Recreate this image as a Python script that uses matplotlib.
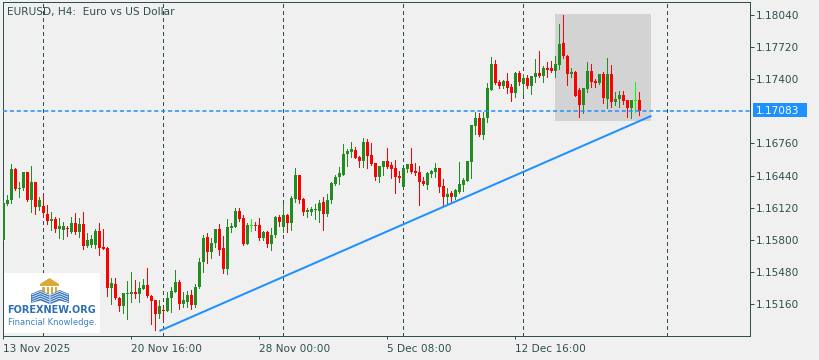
import matplotlib
matplotlib.use("Agg")
import matplotlib.pyplot as plt
from matplotlib.patches import Rectangle, Polygon

# EURUSD H4 candles, oldest first
opens = [
    1.15797, 1.16156, 1.16196, 1.16505, 1.16311, 1.16316, 1.16475, 1.16196, 1.16375, 1.16126,
    1.16136, 1.16056, 1.15987, 1.16007, 1.15907, 1.15897, 1.15917, 1.15877, 1.15967, 1.15877,
    1.15957, 1.15738, 1.15748, 1.15748, 1.15887, 1.15728, 1.15723, 1.15319, 1.15359, 1.15219,
    1.15140, 1.15264, 1.15264, 1.15279, 1.15259, 1.15309, 1.15349, 1.15239, 1.15200, 1.15060,
    1.15105, 1.15090, 1.15219, 1.15279, 1.15379, 1.15160, 1.15180, 1.15249, 1.15150, 1.15329,
    1.15578, 1.15827, 1.15678, 1.15768, 1.15907, 1.15718, 1.15508, 1.15917, 1.15927, 1.16086,
    1.16017, 1.15758, 1.15947, 1.15952, 1.15947, 1.15817, 1.15877, 1.15758, 1.15847, 1.16027,
    1.15927, 1.16047, 1.15967, 1.16206, 1.16445, 1.16206, 1.16076, 1.16076, 1.16100, 1.16086,
    1.16176, 1.16056, 1.16196, 1.16355, 1.16425, 1.16445, 1.16654, 1.16674, 1.16694, 1.16625,
    1.16585, 1.16774, 1.16644, 1.16565, 1.16425, 1.16525, 1.16585, 1.16545, 1.16515, 1.16435,
    1.16326, 1.16505, 1.16555, 1.16485, 1.16475, 1.16385, 1.16345, 1.16455, 1.16475, 1.16515,
    1.16336, 1.16226, 1.16266, 1.16226, 1.16276, 1.16345, 1.16385, 1.16575, 1.16933, 1.17013,
    1.16844, 1.17013, 1.17292, 1.17551, 1.17372, 1.17332, 1.17382, 1.17322, 1.17262, 1.17462,
    1.17352, 1.17412, 1.17332, 1.17422, 1.17462, 1.17432, 1.17511, 1.17511, 1.17481, 1.17541,
    1.17761, 1.17631, 1.17452, 1.17472, 1.17292, 1.17143, 1.17302, 1.17481, 1.17382, 1.17362,
    1.17452, 1.17202, 1.17452, 1.17173, 1.17202, 1.17242, 1.17193, 1.17113, 1.17190, 1.17193,
]
highs = [
    1.16196, 1.16246, 1.16555, 1.16515, 1.16375, 1.16480, 1.16480, 1.16535, 1.16380, 1.16226,
    1.16246, 1.16146, 1.16076, 1.16027, 1.16017, 1.15977, 1.15937, 1.16027, 1.16066, 1.16017,
    1.16076, 1.15867, 1.15847, 1.15907, 1.15967, 1.15907, 1.15728, 1.15419, 1.15419, 1.15229,
    1.15274, 1.15389, 1.15479, 1.15399, 1.15379, 1.15409, 1.15518, 1.15249, 1.15200, 1.15200,
    1.15140, 1.15279, 1.15329, 1.15498, 1.15399, 1.15279, 1.15289, 1.15299, 1.15359, 1.15618,
    1.15847, 1.15867, 1.15817, 1.15907, 1.15957, 1.15837, 1.16007, 1.15967, 1.16116, 1.16116,
    1.16047, 1.15967, 1.16007, 1.15977, 1.16017, 1.15887, 1.15887, 1.15917, 1.16037, 1.16047,
    1.16156, 1.16056, 1.16236, 1.16515, 1.16445, 1.16216, 1.16116, 1.16126, 1.16156, 1.16196,
    1.16226, 1.16256, 1.16375, 1.16445, 1.16525, 1.16754, 1.16704, 1.16774, 1.16724, 1.16635,
    1.16814, 1.16804, 1.16764, 1.16565, 1.16535, 1.16585, 1.16714, 1.16575, 1.16595, 1.16485,
    1.16515, 1.16555, 1.16714, 1.16565, 1.16535, 1.16425, 1.16475, 1.16495, 1.16565, 1.16515,
    1.16405, 1.16316, 1.16286, 1.16306, 1.16575, 1.16415, 1.16585, 1.16943, 1.17073, 1.17063,
    1.17073, 1.17362, 1.17621, 1.17591, 1.17392, 1.17392, 1.17462, 1.17352, 1.17472, 1.17481,
    1.17452, 1.17442, 1.17432, 1.17601, 1.17681, 1.17531, 1.17571, 1.17581, 1.17631, 1.17950,
    1.18040, 1.17641, 1.17511, 1.17481, 1.17312, 1.17312, 1.17571, 1.17551, 1.17402, 1.17452,
    1.17472, 1.17611, 1.17541, 1.17272, 1.17282, 1.17282, 1.17193, 1.17193, 1.17372, 1.17272,
]
lows = [
    1.15797, 1.16146, 1.16166, 1.16296, 1.16226, 1.16296, 1.16186, 1.16076, 1.16056, 1.16096,
    1.16047, 1.15957, 1.15897, 1.15877, 1.15817, 1.15807, 1.15837, 1.15867, 1.15857, 1.15827,
    1.15708, 1.15728, 1.15728, 1.15718, 1.15648, 1.15708, 1.15239, 1.15160, 1.15209, 1.15090,
    1.15070, 1.15010, 1.15180, 1.15219, 1.15180, 1.15309, 1.15229, 1.14960, 1.14901, 1.15020,
    1.15000, 1.15090, 1.15080, 1.15279, 1.15110, 1.15130, 1.15130, 1.15110, 1.15130, 1.15319,
    1.15479, 1.15568, 1.15618, 1.15728, 1.15648, 1.15469, 1.15459, 1.15877, 1.15927, 1.15987,
    1.15748, 1.15758, 1.15887, 1.15897, 1.15797, 1.15797, 1.15728, 1.15698, 1.15827, 1.15937,
    1.15877, 1.15877, 1.15897, 1.16176, 1.16166, 1.16047, 1.16027, 1.16047, 1.16007, 1.15977,
    1.15897, 1.16037, 1.16166, 1.16345, 1.16355, 1.16445, 1.16535, 1.16625, 1.16615, 1.16525,
    1.16525, 1.16515, 1.16545, 1.16395, 1.16375, 1.16445, 1.16515, 1.16415, 1.16266, 1.16375,
    1.16326, 1.16475, 1.16465, 1.16445, 1.16146, 1.16345, 1.16306, 1.16425, 1.16425, 1.16276,
    1.16136, 1.16156, 1.16186, 1.16206, 1.16266, 1.16286, 1.16385, 1.16415, 1.16854, 1.16834,
    1.16804, 1.16973, 1.17292, 1.17352, 1.17312, 1.17312, 1.17262, 1.17183, 1.17222, 1.17342,
    1.17252, 1.17312, 1.17252, 1.17372, 1.17422, 1.17372, 1.17422, 1.17472, 1.17422, 1.17501,
    1.17611, 1.17342, 1.17422, 1.17232, 1.17023, 1.17063, 1.17272, 1.17322, 1.17322, 1.17352,
    1.17163, 1.17113, 1.17123, 1.17143, 1.17123, 1.17153, 1.17023, 1.17013, 1.17073, 1.17043,
]
closes = [
    1.16166, 1.16196, 1.16505, 1.16306, 1.16321, 1.16475, 1.16196, 1.16375, 1.16126, 1.16196,
    1.16066, 1.15987, 1.16007, 1.15907, 1.15937, 1.15937, 1.15907, 1.15967, 1.15877, 1.15957,
    1.15738, 1.15797, 1.15807, 1.15887, 1.15718, 1.15713, 1.15319, 1.15369, 1.15219, 1.15140,
    1.15269, 1.15274, 1.15279, 1.15259, 1.15319, 1.15349, 1.15239, 1.15190, 1.15060, 1.15140,
    1.15095, 1.15219, 1.15289, 1.15379, 1.15160, 1.15200, 1.15249, 1.15150, 1.15329, 1.15578,
    1.15817, 1.15678, 1.15768, 1.15907, 1.15698, 1.15508, 1.15927, 1.15937, 1.16086, 1.16007,
    1.15758, 1.15947, 1.15947, 1.15942, 1.15817, 1.15877, 1.15758, 1.15847, 1.16027, 1.15977,
    1.16047, 1.15967, 1.16216, 1.16445, 1.16196, 1.16076, 1.16096, 1.16106, 1.16106, 1.16166,
    1.16056, 1.16196, 1.16365, 1.16425, 1.16465, 1.16654, 1.16684, 1.16704, 1.16615, 1.16585,
    1.16774, 1.16635, 1.16555, 1.16425, 1.16535, 1.16585, 1.16525, 1.16505, 1.16425, 1.16415,
    1.16515, 1.16555, 1.16475, 1.16465, 1.16375, 1.16355, 1.16465, 1.16485, 1.16515, 1.16326,
    1.16226, 1.16256, 1.16226, 1.16296, 1.16355, 1.16395, 1.16585, 1.16943, 1.17013, 1.16844,
    1.17013, 1.17312, 1.17551, 1.17362, 1.17332, 1.17382, 1.17312, 1.17262, 1.17462, 1.17372,
    1.17412, 1.17332, 1.17432, 1.17462, 1.17432, 1.17511, 1.17491, 1.17481, 1.17551, 1.17751,
    1.17631, 1.17452, 1.17472, 1.17232, 1.17143, 1.17312, 1.17481, 1.17372, 1.17362, 1.17452,
    1.17212, 1.17452, 1.17173, 1.17202, 1.17242, 1.17183, 1.17113, 1.17193, 1.17190, 1.17083,
]

price_ticks = [1.15160, 1.15480, 1.15800, 1.16120, 1.16440, 1.16760, 1.17083, 1.17400, 1.17720, 1.18040]
time_ticks = [0, 32, 64, 96, 128]
time_labels = ["13 Nov 2025", "20 Nov 16:00", "28 Nov 00:00", "5 Dec 08:00", "12 Dec 16:00"]
week_starts = [10, 40, 70, 100, 130, 166]
last_price = 1.17083
trend_x = [39, 162]
trend_y = [1.14891, 1.17036]
zone_x = [138, 162]
zone_y = [1.16984, 1.18050]

BG = "#F0F0F0"
FG = "#2F4F4F"
BLUE = "#1E90FF"
BULL = "#228B22"
BEAR = "#FF0000"
DOJI = "#00FF00"
PX = 0.72  # one pixel in points

W, H = 820, 360
def fx(px):
    return px / W
def fy(py):
    return 1 - py / H

fig = plt.figure(figsize=(8.2, 3.6), dpi=100, facecolor=BG)
ax = fig.add_axes([fx(3), fy(336), (750 - 3) / W, (336 - 1.5) / H], facecolor=BG)
ax.set_xlim(-0.125, 186.625)
ax.set_ylim(1.14841, 1.18175)

# weekly separators
for w in week_starts:
    ax.axvline(w, color=FG, lw=PX, ls=(0, (3, 3)), zorder=1, antialiased=False)

# highlighted zone
ax.add_patch(Rectangle((zone_x[0], zone_y[0]), zone_x[1] - zone_x[0], zone_y[1] - zone_y[0],
                       facecolor="#D3D3D3", edgecolor="none", zorder=1.5))

# candles
onepx = (1.18175 - 1.14841) / (336 - 1.5)
for i in range(len(opens)):
    o, h, l, c = opens[i], highs[i], lows[i], closes[i]
    if c > o:
        col = BULL
    elif c < o:
        col = BEAR
    else:
        col = DOJI
    ax.vlines(i, l, h, color=col, lw=PX, zorder=3, antialiased=False)
    lo, hi = min(o, c), max(o, c)
    if hi - lo < onepx:
        mid = (hi + lo) / 2
        lo, hi = mid - onepx / 2, mid + onepx / 2
    ax.bar(i, hi - lo, bottom=lo, width=0.75, color=col, linewidth=0, zorder=3,
           antialiased=False)

ax.axhline(last_price, color=BLUE, lw=1.1, ls=(0, (2.7, 1.8)), zorder=4)
ax.plot(trend_x, trend_y, color=BLUE, lw=2 * PX, zorder=4, solid_capstyle="butt")

for s in ax.spines.values():
    s.set_color(FG)
    s.set_linewidth(PX)

ax.yaxis.tick_right()
ax.set_yticks([p for p in price_ticks if p != last_price])
ax.set_yticklabels(["%.5f" % p for p in price_ticks if p != last_price])
ax.tick_params(axis="y", direction="out", length=4 * PX, width=PX, color=FG,
               labelcolor=FG, labelsize=7.6, pad=1.5)
ax.set_xticks(time_ticks)
ax.set_xticklabels(time_labels, ha="left")
ax.tick_params(axis="x", direction="out", length=3 * PX, width=PX, color=FG,
               labelcolor=FG, labelsize=7.6, pad=3.5)

# current price marker
fig.add_artist(Rectangle((fx(753), fy(117.5)), 54 / W, 14 / H, transform=fig.transFigure,
                         facecolor=BLUE, edgecolor="none"))
fig.text(fx(756), fy(110.5), "%.5f" % last_price, color="white", fontsize=7.6,
         va="center", ha="left")

fig.text(fx(7), fy(12), "EURUSD, H4:  Euro vs US Dollar", color=FG, fontsize=7.6,
         va="center", ha="left")

# logo
fig.add_artist(Rectangle((fx(3.5), fy(333)), 96.5 / W, 60 / H, transform=fig.transFigure,
                         facecolor="white", edgecolor="none", zorder=5))
GOLD = "#D9A93A"
def poly(pts, color):
    fig.add_artist(Polygon([(fx(x), fy(y)) for x, y in pts], closed=True,
                           transform=fig.transFigure, facecolor=color, edgecolor="none", zorder=6))
poly([(40, 284), (49.5, 278), (59, 284)], GOLD)
poly([(40, 284), (59, 284), (59, 286), (40, 286)], GOLD)
for px in [42.5, 46.7, 50.9, 55.1]:
    poly([(px, 286.5), (px + 2.2, 286.5), (px + 2.2, 296), (px, 296)], GOLD)
BOOK = "#3B78BE"
poly([(31, 294), (40.5, 290), (49.5, 294.5), (49.5, 304), (40.5, 300.5), (31, 303)], BOOK)
poly([(50.5, 294.5), (59.5, 290), (69, 294), (69, 303), (59.5, 300.5), (50.5, 304)], BOOK)
for k in range(4):
    y0 = 293.8 + 2.3 * k
    fig.add_artist(plt.Line2D([fx(32), fx(40.5), fx(49)], [fy(y0 + 1), fy(y0 - 2.5), fy(y0 + 1.2)],
                              transform=fig.transFigure, color="white", lw=0.5, zorder=7))
    fig.add_artist(plt.Line2D([fx(51), fx(59.5), fx(68)], [fy(y0 + 1.2), fy(y0 - 2.5), fy(y0 + 1)],
                              transform=fig.transFigure, color="white", lw=0.5, zorder=7))
fig.text(fx(52), fy(310), "FOREXNEW.ORG", family="DejaVu Sans", weight="bold",
         fontsize=7.0, color="#2E6FB7", ha="center", va="center", zorder=8)
fig.text(fx(52.5), fy(322.5), "Financial Knowledge.", fontsize=6, color="#3A80C6",
         ha="center", va="center", zorder=8)

fig.savefig("out.png", dpi=100, facecolor=BG)
